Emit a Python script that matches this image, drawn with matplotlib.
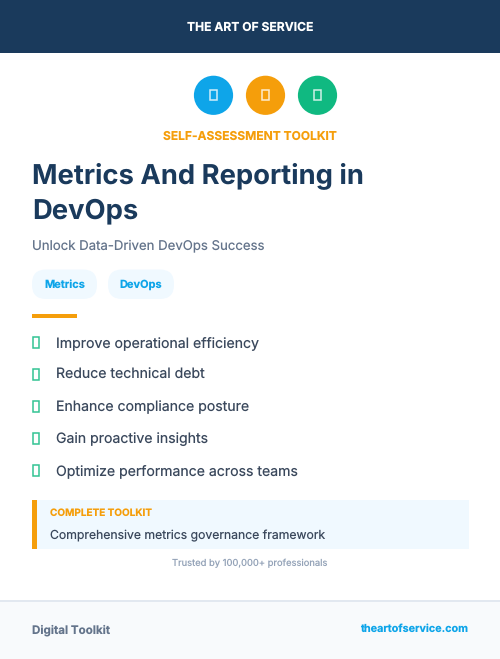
import matplotlib
matplotlib.use("Agg")
import matplotlib.pyplot as plt
from matplotlib.patches import Rectangle, Circle, FancyBboxPatch

plt.rcParams['font.family'] = ['Inter', 'DejaVu Sans']
plt.rcParams['text.hinting'] = 'no_hinting'
plt.rcParams['text.hinting_factor'] = 1

brand = "THE ART OF SERVICE"
kicker = "SELF-ASSESSMENT TOOLKIT"
title_lines = ["Metrics And Reporting in", "DevOps"]
subtitle = "Unlock Data-Driven DevOps Success"
tags = ["Metrics", "DevOps"]
benefits = ["Improve operational efficiency", "Reduce technical debt",
            "Enhance compliance posture", "Gain proactive insights",
            "Optimize performance across teams"]
box_label = "COMPLETE TOOLKIT"
box_text = "Comprehensive metrics governance framework"
trust = "Trusted by 100,000+ professionals"
footer_left = "Digital Toolkit"
footer_right = "theartofservice.com"
icon_colors = ["#0ea5e9", "#f59e0b", "#10b981"]

NAVY, ORANGE, BLUE, GREEN = "#1a3a5c", "#f59e0b", "#0ea5e9", "#10b981"
PX = 0.72

fig = plt.figure(figsize=(5, 6.59), dpi=100, facecolor="white")
ax = fig.add_axes([0, 0, 1, 1])
ax.set_xlim(0, 500)
ax.set_ylim(659, 0)
ax.axis("off")

def rect(x, y, w, h, **kw):
    kw.setdefault("linewidth", 0)
    ax.add_patch(Rectangle((x, y), w, h, **kw))

def label(x, y, s, size, color, weight="normal", ha="left"):
    ax.text(x, y, s, fontsize=size * PX, color=color, fontweight=weight,
            ha=ha, va="baseline")

# Header
rect(0, 0, 500, 53, facecolor=NAVY)
label(250, 31, brand, 12.1, "white", "bold", "center")

# Icons
for cx, col in zip([213.5, 265.5, 317.5], icon_colors):
    ax.add_patch(Circle((cx, 95.3), 19.6, facecolor=col, linewidth=0))
    rect(cx - 3.5, 90, 7, 10, facecolor="none", edgecolor="#ffffff", linewidth=1.1, alpha=0.8)

label(249.5, 140, kicker, 12, ORANGE, "bold", "center")

# Title
label(32, 183, title_lines[0], 27.4, NAVY, "bold")
label(32, 218, title_lines[1], 27.4, NAVY, "bold")
label(32, 249, subtitle, 13.2, "#64748b")

# Tags
for (x, w), t in zip([(32, 65), (108, 66)], tags):
    ax.add_patch(FancyBboxPatch((x + 14, 269.5 + 14), w - 28, 1.5,
                 boxstyle="round,pad=14,rounding_size=14",
                 facecolor="#f0f9ff", linewidth=0))
    label(x + w / 2, 288, t, 11, BLUE, "bold", "center")

rect(32, 314, 45, 4, facecolor=ORANGE)

# Benefits
for i, b in enumerate(benefits):
    y = 342.4 + 32 * i
    rect(32.75, y - 5, 6.5, 10.5, facecolor="none", edgecolor=GREEN, linewidth=1.1, alpha=0.85)
    label(56, y + 4.5, b, 14.1, "#3a485c")

# Callout
rect(32, 500, 437, 49, facecolor="#f0f9ff")
rect(32, 500, 5, 49, facecolor=ORANGE)
label(50, 516, box_label, 10, ORANGE, "bold")
label(50, 539, box_text, 12.2, "#3a485c")

label(250, 566.5, trust, 9.4, "#94a3b8", "normal", "center")

# Footer
rect(0, 600, 500, 59, facecolor="#f8fafc")
rect(0, 599.5, 500, 2, facecolor="#e2e8f0")
label(32, 633, footer_left, 11.6, "#64748b", "bold")
label(468, 632, footer_right, 10.8, BLUE, "bold", "right")

fig.savefig("out.png", dpi=100, facecolor="white")
